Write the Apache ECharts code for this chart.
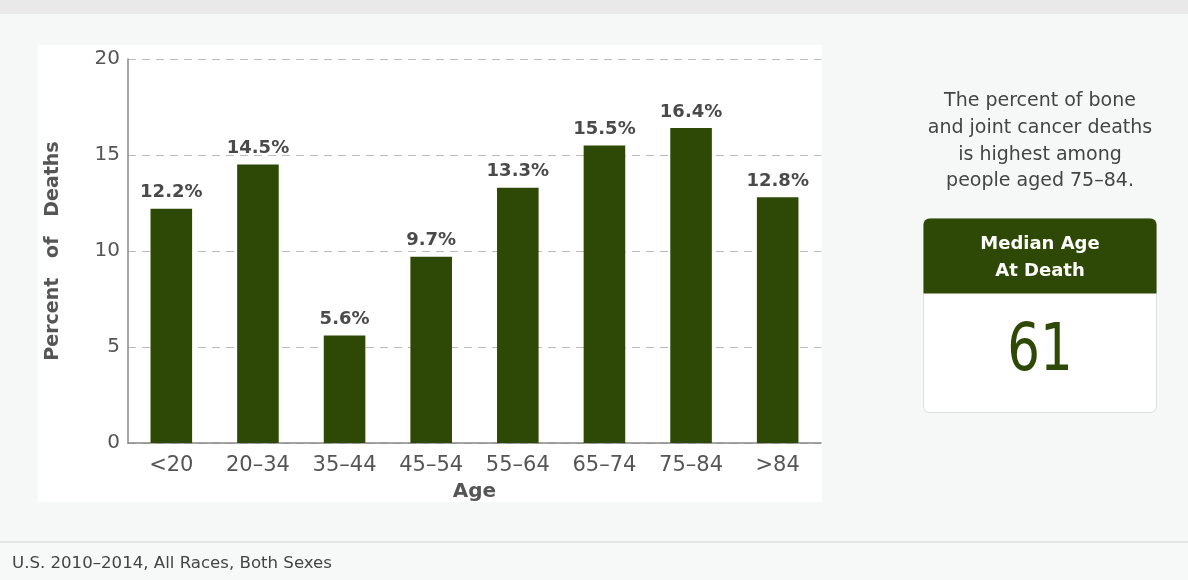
<!DOCTYPE html>
<html>
<head>
<meta charset="utf-8">
<script src="https://cdn.jsdelivr.net/npm/echarts@6/dist/echarts.min.js"></script>
<style>
html,body{margin:0;padding:0;background:#f5f8f7;}
#chart{width:1188px;height:580px;}
</style>
</head>
<body>
<div id="chart"></div>
<script>
const categories = ['<20', '20–34', '35–44', '45–54', '55–64', '65–74', '75–84', '>84'];
const percentDeaths = [12.2, 14.5, 5.6, 9.7, 13.3, 15.5, 16.4, 12.8];
const yTicks = [0, 5, 10, 15, 20];
const noteLines = ['The percent of bone', 'and joint cancer deaths', 'is highest among', 'people aged 75–84.'];
const medianTitle = ['Median Age', 'At Death'];
const medianAge = '61';
const footerText = 'U.S. 2010–2014, All Races, Both Sexes';

const green = '#2e4905';
const font = '"DejaVu Sans"';

const chart = echarts.init(document.getElementById('chart'));
chart.setOption({
  backgroundColor: '#f5f8f7',
  animation: false,
  grid: { left: 128, right: 367, top: 59, bottom: 137 },
  xAxis: {
    type: 'category',
    data: categories,
    name: 'Age',
    nameLocation: 'middle',
    nameGap: 39,
    nameTextStyle: { fontFamily: font, fontSize: 20, fontWeight: 'bold', color: '#555' },
    axisLine: { lineStyle: { color: '#888', width: 1.5 } },
    axisTick: { show: false },
    axisLabel: { fontFamily: font, fontSize: 21, color: '#555', margin: 12 }
  },
  yAxis: {
    type: 'value',
    min: yTicks[0], max: yTicks[yTicks.length - 1], interval: yTicks[1] - yTicks[0],
    name: 'Percent   of   Deaths',
    nameLocation: 'middle',
    nameGap: 65,
    nameTextStyle: { fontFamily: font, fontSize: 19, fontWeight: 'bold', color: '#555' },
    axisLine: { show: true, lineStyle: { color: '#888', width: 1.5 } },
    axisTick: { show: false },
    axisLabel: { fontFamily: font, fontSize: 20, color: '#555', margin: 8 },
    splitLine: { lineStyle: { color: '#bbb', type: [8, 6], width: 1.2 } }
  },
  series: [{
    type: 'bar',
    data: percentDeaths,
    barWidth: '48%',
    itemStyle: { color: green },
    label: {
      show: true, position: 'top', distance: 7,
      formatter: p => p.value.toFixed(1) + '%',
      fontFamily: font, fontSize: 18, fontWeight: 'bold', color: '#4a4a4a'
    }
  }],
  graphic: [
    { type: 'rect', z: -10, silent: true, shape: { x: 0, y: 0, width: 1188, height: 14 }, style: { fill: '#e9e9e9' } },
    { type: 'rect', z: -10, silent: true, shape: { x: 38, y: 45, width: 784, height: 457 }, style: { fill: '#ffffff' } },
    { type: 'rect', z: -10, silent: true, shape: { x: 0, y: 542, width: 1188, height: 38 }, style: { fill: '#f7f8f8', stroke: null } },
    { type: 'line', z: -9, silent: true, shape: { x1: 0, y1: 542, x2: 1188, y2: 542 }, style: { stroke: '#dcdfdf', lineWidth: 1.5 } },
    { type: 'text', silent: true, x: 12, y: 564, style: { text: footerText, fontFamily: font, fontSize: 16.6, fill: '#444', verticalAlign: 'middle' } },
    { type: 'text', silent: true, x: 1040, y: 88, style: { text: noteLines.join('\n'), fontFamily: font, fontSize: 19, lineHeight: 26.7, fill: '#444', align: 'center', verticalAlign: 'top' } },
    { type: 'rect', silent: true, shape: { x: 923.5, y: 218.5, width: 233, height: 194, r: 6 }, style: { fill: '#ffffff', stroke: '#dddddd', lineWidth: 1 } },
    { type: 'rect', silent: true, shape: { x: 923.5, y: 218.5, width: 233, height: 75, r: [6, 6, 0, 0] }, style: { fill: green } },
    { type: 'text', silent: true, x: 1040, y: 231, style: { text: medianTitle.join('\n'), fontFamily: font, fontSize: 18, fontWeight: 'bold', lineHeight: 27, fill: '#ffffff', align: 'center', verticalAlign: 'top' } },
    { type: 'text', silent: true, x: 1040, y: 353, scaleX: 0.78, style: { x: 0, y: 0, text: medianAge, fontFamily: font, fontSize: 66, fill: green, align: 'center', verticalAlign: 'middle' } }
  ]
});
</script>
</body>
</html>
